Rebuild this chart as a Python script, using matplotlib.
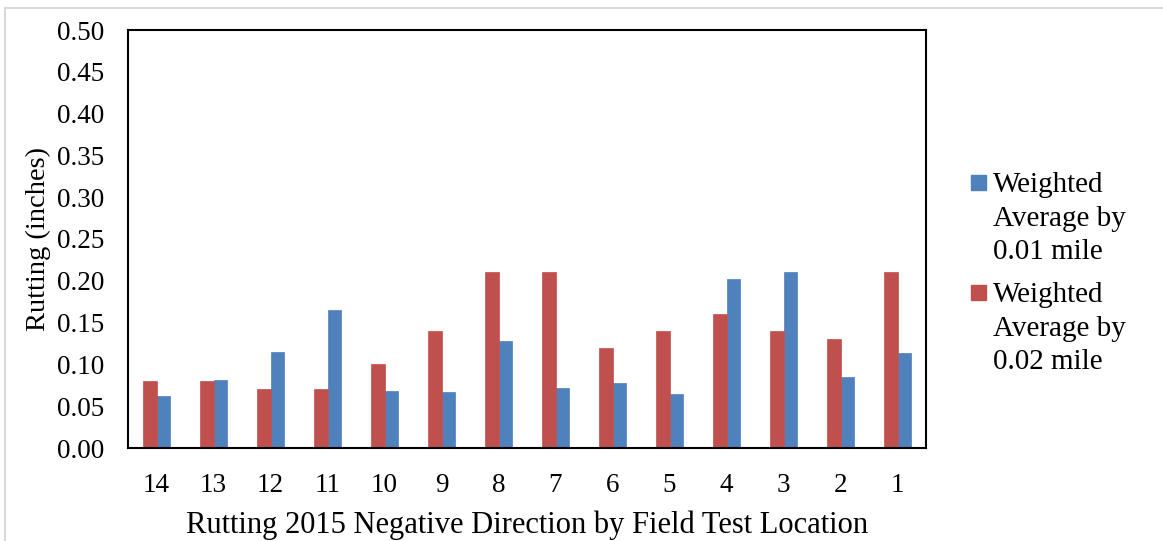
import matplotlib.pyplot as plt
from matplotlib.patches import Rectangle
import numpy as np

locations = ["14", "13", "12", "11", "10", "9", "8", "7", "6", "5", "4", "3", "2", "1"]
avg_001 = [0.062, 0.081, 0.115, 0.165, 0.068, 0.067, 0.128,
           0.072, 0.078, 0.064, 0.202, 0.210, 0.085, 0.114]
avg_002 = [0.08, 0.08, 0.07, 0.07, 0.10, 0.14, 0.21,
           0.21, 0.12, 0.14, 0.16, 0.14, 0.13, 0.21]
yticks = np.arange(0, 0.501, 0.05)
legend_labels = [["Weighted", "Average by", "0.01 mile"],
                 ["Weighted", "Average by", "0.02 mile"]]

plt.rcParams['font.family'] = ['Liberation Serif', 'DejaVu Serif']
FS = 19.5
W, H = 1163, 541

fig = plt.figure(figsize=(11.63, 5.41), dpi=100)
ax = fig.add_axes([128 / W, 1 - 448 / H, 798 / W, 418 / H])

x = np.arange(len(locations))
w = 0.24
b1 = ax.bar(x + w / 2, avg_001, w, color='#4F81BD', edgecolor='#4F81BD', linewidth=0.5)
b2 = ax.bar(x - w / 2, avg_002, w, color='#C0504D', edgecolor='#C0504D', linewidth=0.5)

ax.set_xlim(-0.5, len(locations) - 0.5)
ax.set_ylim(0, 0.5)
ax.set_xticks(x)
ax.set_xticklabels(locations)
ax.set_yticks(yticks)
ax.set_yticklabels([f"{v:.2f}" for v in yticks])
ax.tick_params(axis='both', length=0, labelsize=FS)
ax.tick_params(axis='x', pad=18)
ax.tick_params(axis='y', pad=17)
for s in ax.spines.values():
    s.set_linewidth(1.5)
    s.set_color('black')

ax.set_xlabel('Rutting 2015 Negative Direction by Field Test Location', fontsize=22, labelpad=9)
ax.set_ylabel('Rutting (inches)', fontsize=20.5, labelpad=4)

# legend drawn by hand: square beside the first line of each wrapped label
for i, (bars, lines) in enumerate(zip([b1, b2], legend_labels)):
    top = 192 + i * 110
    fig.patches.append(Rectangle((971 / W, 1 - (top - 2) / H), 15 / W, 15 / H,
                                 transform=fig.transFigure,
                                 color=bars.patches[0].get_facecolor()))
    for j, line in enumerate(lines):
        fig.text(993 / W, 1 - (top + j * 33.5) / H, line, fontsize=21,
                 va='baseline', ha='left')

# light grey outer chart border
fig.patches.append(Rectangle((5 / W, -0.1), 1.2, 1 - 8 / H + 0.1,
                             transform=fig.transFigure, fill=False,
                             edgecolor='#D9D9D9', linewidth=1.5))

fig.savefig('out.png', dpi=100)
